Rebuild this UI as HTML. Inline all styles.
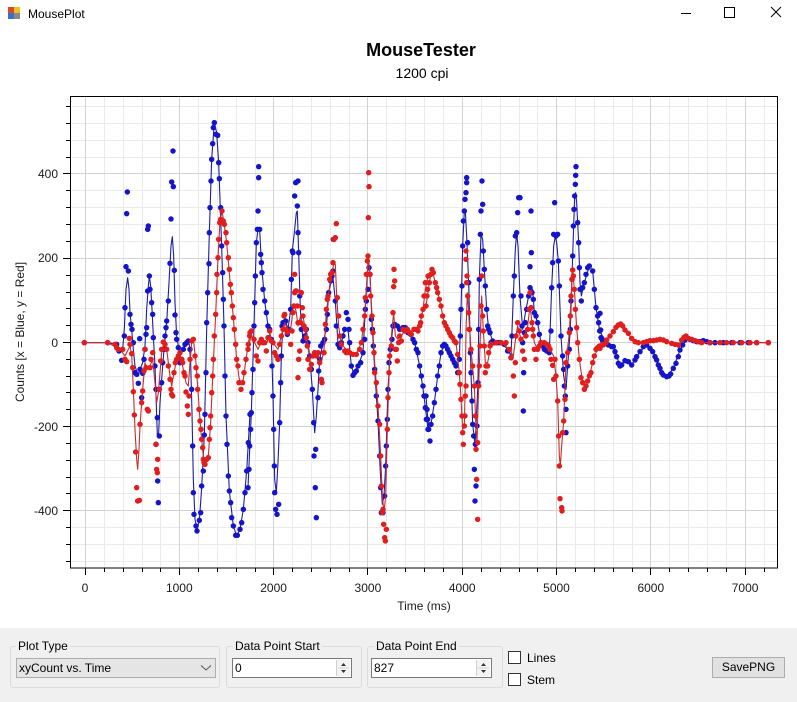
<!DOCTYPE html>
<html><head><meta charset="utf-8"><style>
html,body{margin:0;padding:0;}
body{width:797px;height:702px;position:relative;overflow:hidden;background:#fff;font-family:"Liberation Sans",sans-serif;}
.abs{position:absolute;}
.panel{position:absolute;left:0;top:628px;width:797px;height:74px;background:#f0f0f0;}
.grp{position:absolute;border:1px solid #dcdcdc;border-radius:3px;}
.glbl{position:absolute;font-size:12px;color:#000;background:#f0f0f0;padding:0 2px;line-height:14px;}
.inp{position:absolute;background:#fff;border:1px solid #7a7a7a;box-sizing:border-box;font-size:12px;line-height:18px;padding-left:2px;}
.spin{position:absolute;top:1px;right:1px;width:13px;height:16px;border-left:1px solid #d0d0d0;background:#f3f3f3;}
.cb{position:absolute;width:13px;height:13px;border:1px solid #333;background:#fff;box-sizing:border-box;}
.txt{position:absolute;font-size:12px;line-height:14px;color:#000;}
</style></head><body>
<svg class="abs" style="left:0;top:0" width="797" height="628" viewBox="0 0 797 628" xmlns="http://www.w3.org/2000/svg" font-family="Liberation Sans, sans-serif">
<defs>
<clipPath id="pc"><rect x="70" y="96" width="708" height="472"/></clipPath>
<marker id="bd" markerUnits="userSpaceOnUse" markerWidth="20" markerHeight="20" refX="10" refY="10" overflow="visible"><circle cx="10" cy="10" r="8.2" fill="#1414c8"/></marker>
<marker id="rd" markerUnits="userSpaceOnUse" markerWidth="20" markerHeight="20" refX="10" refY="10" overflow="visible"><circle cx="10" cy="10" r="8.2" fill="#e01e1e"/></marker>
</defs>
<!-- title bar -->
<rect x="8" y="7" width="6" height="6" fill="#d84a2a"/><rect x="14" y="7" width="6" height="6" fill="#f0c020"/><rect x="8" y="13" width="6" height="6" fill="#3a70d0"/><rect x="14" y="13" width="6" height="6" fill="#8a8a8a"/>
<text x="28" y="18" font-size="12" fill="#000">MousePlot</text>
<line x1="681" y1="13.5" x2="691" y2="13.5" stroke="#000" stroke-width="1"/>
<rect x="724.5" y="7.5" width="10" height="10" fill="none" stroke="#000" stroke-width="1"/>
<path d="M771 7L781 17M781 7L771 17" stroke="#000" stroke-width="1"/>
<!-- titles -->
<text x="421" y="56" font-size="18" font-weight="bold" text-anchor="middle" fill="#000">MouseTester</text>
<text x="422" y="78" font-size="14" text-anchor="middle" fill="#000">1200 cpi</text>
<!-- grid minor -->
<g stroke="#ebebeb" stroke-width="1" shape-rendering="crispEdges">
<path d="M85.5 96V568M104.5 96V568M123.5 96V568M142.5 96V568M160.5 96V568M198.5 96V568M217.5 96V568M236.5 96V568M255.5 96V568M292.5 96V568M311.5 96V568M330.5 96V568M349.5 96V568M386.5 96V568M405.5 96V568M424.5 96V568M443.5 96V568M481.5 96V568M500.5 96V568M519.5 96V568M537.5 96V568M575.5 96V568M594.5 96V568M613.5 96V568M632.5 96V568M669.5 96V568M688.5 96V568M707.5 96V568M726.5 96V568M764.5 96V568"/>
<path d="M70 106.5H778M70 123.5H778M70 140.5H778M70 157.5H778M70 190.5H778M70 207.5H778M70 224.5H778M70 241.5H778M70 275.5H778M70 292.5H778M70 308.5H778M70 325.5H778M70 359.5H778M70 376.5H778M70 392.5H778M70 409.5H778M70 443.5H778M70 460.5H778M70 477.5H778M70 493.5H778M70 527.5H778M70 544.5H778M70 561.5H778"/>
</g>
<g stroke="#d2d2d2" stroke-width="1" shape-rendering="crispEdges">
<path d="M85.5 96V568M179.5 96V568M273.5 96V568M367.5 96V568M462.5 96V568M556.5 96V568M650.5 96V568M745.5 96V568"/>
<path d="M70 173.5H778M70 258.5H778M70 342.5H778M70 426.5H778M70 510.5H778"/>
</g>
<!-- data -->
<g clip-path="url(#pc)" fill="none" stroke-linejoin="round">
<g transform="translate(70 96) scale(0.33333)">
<polyline stroke="#1c1ca8" stroke-width="3.3" points="43,740 113,740 140,745 150,770 158,760 163,700 168,580 173,545 177,580 180,650 185,700 190,760 195,810 205,840 210,820 218,800 225,750 230,640 235,570 238,540 242,570 246,640 250,720 255,810 258,900 262,1018 266,1010 270,920 275,850 282,760 290,680 297,560 303,450 307,422 311,480 315,620 320,720 330,780 340,760 350,740 358,745 362,800 366,950 370,1150 375,1270 381,1300 388,1275 395,1175 403,1017 410,700 418,410 425,190 433,80 440,110 446,200 455,450 462,690 468,960 478,1185 490,1290 500,1320 510,1300 520,1240 530,1125 540,955"/>
<polyline stroke="none" marker-start="url(#bd)" marker-mid="url(#bd)" marker-end="url(#bd)" points="43,740 113,740 140,745 147,765 155,793 163,720 165,635 168,512 175,525 172,288 170,353 180,655 183,685 186,700 190,740 195,830 200,835 205,862 210,820 209,728 215,905 218,832 222,790 225,760 228,715 230,695 233,585 240,580 238,540 235,390 233,400 245,620 248,655 250,725 255,810 258,880 262,965 258,1045 268,1020 263,1155 265,1220 275,860 278,800 282,760 285,720 288,695 290,675 295,615 300,502 303,369 305,258 309,165 310,272 313,523 315,657 318,710 320,730 325,755 330,800 335,790 340,760 345,745 350,740 355,735 360,760 365,880 368,1050 370,1190 372,1255 378,1290 381,1305 388,1273 392,1250 395,1170 400,1125 403,1017 405,955 408,830 410,680 413,590 417,503 418,410 420,335 423,255 425,190 428,143 430,95 433,80 438,115 443,118 446,200 448,248 452,335 455,450 458,530 460,610 462,690 465,840 468,960 471,1045 475,1140 478,1185 482,1220 485,1265 490,1290 497,1318 502,1318 510,1300 515,1280 520,1240 525,1190 530,1125 535,1040 540,955"/>
</g>
<g transform="translate(248 96) scale(0.33333)">
<polyline stroke="#1c1ca8" stroke-width="3.3" points="0,1175 10,950 18,690 25,440 30,400 35,400 40,500 50,615 60,690 70,730 75,900 80,1150 85,1190 90,1100 95,980 100,780 105,680 113,675 120,700 128,640 133,465 140,400 145,350 148,345 152,470 157,640 165,735 175,700 185,780 193,880 200,1010 205,960 210,880 215,790 225,740 235,700 242,590 250,555 255,545 262,615 270,745 280,740 290,700 300,700 310,810 318,835 330,810 345,770 352,640 358,540 362,500 366,535 372,680 380,820 390,975 397,1130 403,1225 408,1200 413,1110 420,880 427,760 435,690 445,690 465,695 480,710 500,740 515,810 528,900 540,1000"/>
<polyline stroke="none" marker-start="url(#bd)" marker-mid="url(#bd)" marker-end="url(#bd)" points="0,1175 3,1120 5,1050 8,1000 10,950 12,890 15,820 18,690 20,620 22,540 25,440 28,400 30,345 32,245 32,212 35,400 38,475 40,500 42,530 45,580 50,615 55,650 60,690 65,700 70,730 72,810 75,900 77,1000 79,1110 80,1190 83,1240 87,1255 92,1225 95,980 98,860 100,780 102,690 105,680 110,680 113,675 118,715 123,700 128,640 130,550 133,465 135,470 140,300 143,260 150,255 148,330 150,410 152,470 155,600 160,700 165,735 170,720 175,700 180,740 185,780 190,820 193,880 197,980 203,1060 198,1080 202,1175 205,1265 210,905 212,825 215,790 218,750 225,740 230,730 235,700 238,655 242,590 248,555 252,540 255,525 256,430 262,615 265,690 270,745 275,755 280,740 285,720 290,700 295,650 300,670 303,700 305,740 310,810 315,838 320,830 325,825 330,810 338,800 345,770 350,730 352,640 355,615 360,580 363,515 366,535 370,670 373,700 376,750 380,820 385,900 390,975 395,1080 398,1175 400,1250 405,1250 410,1200 413,1110 415,1050 418,970 420,880 423,800 427,760 432,730 435,690 440,685 448,690 455,700 465,695 472,695 480,710 488,715 495,730 500,740 505,760 510,770 515,810 520,840 525,870 528,900 532,935 535,970 540,1000"/>
</g>
<g transform="translate(426 96) scale(0.33333)">
<polyline stroke="#1c1ca8" stroke-width="3.3" points="0,900 8,1000 15,985 25,920 35,840 45,770 55,745 70,770 90,810 100,790 105,640 110,450 115,345 118,345 122,420 128,560 135,830 140,985 147,1045 150,990 156,860 160,550 165,415 170,430 175,520 182,640 188,700 200,735 225,740 245,760 255,780 262,600 268,460 272,410 276,450 282,600 290,700 300,640 308,600 315,575 320,580 325,650 335,680 345,740 362,765 370,770 377,575 383,450 388,420 392,440 397,495 405,720 413,840 420,880 425,810 433,700 440,480 446,300 449,290 452,320 458,440 462,560 466,600 475,560 490,510 500,525 510,635 521,705 540,740"/>
<polyline stroke="none" marker-start="url(#bd)" marker-mid="url(#bd)" marker-end="url(#bd)" points="0,900 3,940 5,970 8,1000 12,1035 15,985 20,960 25,920 30,880 35,840 40,810 45,770 50,750 55,745 60,750 65,760 70,770 75,780 80,790 85,800 90,810 95,830 100,790 103,720 105,640 108,570 110,450 112,375 115,345 117,310 120,290 122,260 122,245 125,440 128,560 130,700 133,770 135,830 138,915 140,985 143,1020 145,1120 150,1170 147,1215 148,1045 153,990 156,860 158,700 160,550 163,415 165,345 170,325 168,255 172,465 175,520 178,570 182,640 185,690 188,700 192,710 195,740 200,735 205,740 210,740 215,740 220,740 225,740 235,745 245,765 255,785 258,720 262,600 265,540 268,420 272,410 275,350 278,305 282,305 285,600 288,690 290,740 293,830 292,945 295,710 298,680 302,640 308,600 312,575 315,345 316,470 312,512 318,590 322,610 325,650 330,660 335,680 340,715 345,740 350,750 355,760 362,765 370,770 375,705 377,575 380,500 383,415 386,320 390,420 395,415 397,495 400,570 405,720 410,780 413,820 415,870 418,900 420,940 420,1010 425,810 430,760 433,700 435,615 438,550 440,480 442,390 444,340 446,300 448,265 449,238 450,212 455,380 458,440 460,515 462,580 466,615 470,575 475,560 480,535 485,515 490,510 500,525 505,580 510,635 515,660 518,680 521,705 525,725 530,735 540,740"/>
</g>
<g transform="translate(600 250) scale(0.33333)">
<polyline stroke="#1c1ca8" stroke-width="3.3" points="0,240 12,275 40,290 60,348 75,332 95,345 120,305 140,285 160,305 180,355 200,380 220,355 240,300 262,265 300,275 505,278"/>
<polyline stroke="none" marker-start="url(#bd)" marker-mid="url(#bd)" marker-end="url(#bd)" points="0,190 2,240 5,265 12,275 25,285 35,290 40,290 45,305 50,320 55,340 60,348 65,345 75,332 85,335 95,345 105,330 110,320 120,305 130,290 140,285 150,295 158,305 165,320 170,330 175,345 180,355 185,368 190,375 200,380 207,378 212,372 220,355 228,340 235,320 240,300 248,285 255,270 262,265 270,268 280,272 290,275 300,275 310,272 320,275 330,278 345,278 370,278 395,278 420,278 445,278 470,278 505,278"/>
</g>
<!-- red -->
<g transform="translate(70 96) scale(0.33333)">
<polyline stroke="#cc2a2a" stroke-width="3.3" points="43,740 113,740 150,760 165,780 175,760 180,750 185,775 190,880 195,1000 200,1090 203,1120 207,1060 210,990 218,880 225,800 232,820 240,810 248,790 255,860 260,920 265,890 270,830 275,770 282,740 290,760 300,840 305,870 312,830 320,790 330,775 340,820 348,860 355,870 360,800 365,740 370,730 378,800 385,900 392,1000 400,1080 407,1100 415,1080 422,980 430,800 437,655 444,485 450,375 456,345 462,380 470,440 481,565 490,665 500,790 507,845 513,862 520,850 528,790 540,710"/>
<polyline stroke="none" marker-start="url(#rd)" marker-mid="url(#rd)" marker-end="url(#rd)" points="43,740 113,740 135,745 140,755 145,760 158,760 165,790 170,797 178,727 180,745 185,773 188,815 190,887 193,957 197,1068 200,1175 203,1215 208,1213 210,985 215,920 218,885 222,825 225,760 228,815 232,940 235,945 240,815 243,790 248,770 258,1045 260,1120 262,1130 263,1090 268,880 272,795 275,760 280,738 285,745 290,760 295,810 300,850 303,880 305,895 308,900 312,830 316,800 320,790 325,780 330,770 335,790 338,800 342,830 345,840 348,888 352,930 355,955 357,900 360,790 365,735 370,730 375,780 378,815 382,840 383,880 387,940 390,975 393,1000 395,1030 398,1055 400,1090 402,1100 405,1105 410,1090 415,1085 418,1030 420,995 422,960 425,890 428,840 430,790 433,720 437,655 440,590 441,535 444,485 446,430 449,380 452,370 456,345 460,375 463,385 468,410 470,440 475,485 478,520 481,565 484,590 487,630 490,665 493,700 497,745 500,790 504,810 507,860 513,880 518,860 522,830 528,790 535,745 540,710"/>
</g>
<g transform="translate(248 96) scale(0.33333)">
<polyline stroke="#cc2a2a" stroke-width="3.3" points="0,760 10,715 20,740 30,760 40,735 55,745 65,715 75,740 90,760 100,720 110,680 120,700 128,700 135,640 140,630 145,650 150,690 158,660 165,660 175,720 185,790 195,780 210,780 220,800 228,760 235,650 245,570 252,530 258,500 262,505 266,600 272,690 280,745 300,765 325,775 340,740 350,660 356,560 361,480 366,540 372,660 380,800 390,930 398,1080 403,1200 408,1250 413,1200 418,1000 425,780 432,700 437,650 442,720 450,730 460,720 470,705 485,705 500,705 515,690 525,640 532,580 540,540"/>
<polyline stroke="none" marker-start="url(#rd)" marker-mid="url(#rd)" marker-end="url(#rd)" points="0,760 5,720 10,705 18,730 25,780 30,795 35,740 40,730 45,740 50,740 55,765 60,725 65,705 70,735 75,740 80,770 85,780 90,790 95,745 100,720 105,700 108,660 110,655 113,700 118,710 128,745 132,705 135,650 138,630 140,590 143,585 145,585 140,535 148,630 150,680 152,790 155,765 150,845 158,680 160,590 163,635 165,660 168,690 172,700 175,725 178,750 180,790 185,820 190,805 195,780 200,770 205,780 210,770 215,800 220,850 222,860 228,770 232,685 235,640 238,610 240,600 245,550 248,535 252,530 255,500 258,430 262,425 265,383 268,605 272,660 275,720 280,745 290,765 295,770 300,765 305,770 315,775 325,775 335,760 340,740 345,700 350,660 352,605 355,535 358,495 360,480 361,365 363,272 362,230 366,535 368,600 372,660 375,710 378,770 380,830 385,860 390,930 395,985 398,1080 400,1170 403,1250 405,1240 407,1285 410,1325 412,1335 415,1300 418,1000 420,905 423,830 425,780 430,750 435,650 438,520 440,555 437,572 442,760 445,760 448,795 452,740 455,720 460,735 465,700 470,705 478,700 485,710 490,715 498,700 505,700 510,705 515,690 518,680 520,660 525,640 528,600 532,560 540,540"/>
</g>
<g transform="translate(426 96) scale(0.33333)">
<polyline stroke="#cc2a2a" stroke-width="3.3" points="0,630 10,560 18,520 28,560 40,610 55,680 70,710 90,740 100,830 105,910 110,1000 115,990 118,850 120,700 124,590 128,650 135,760 145,870 150,1000 153,1040 158,870 162,750 167,600 172,705 178,800 185,800 195,745 225,740 250,760 262,780 270,720 275,690 285,730 295,720 305,690 312,630 318,680 325,740 335,760 355,740 372,760 383,780 390,840 395,915 400,1080 403,1110 407,1050 413,975 420,800 430,710 438,550 440,522 445,580 452,695 460,790 470,860 478,875 490,840 505,780 520,750 540,740"/>
<polyline stroke="none" marker-start="url(#rd)" marker-mid="url(#rd)" marker-end="url(#rd)" points="0,630 3,600 5,580 10,560 15,535 18,520 22,530 28,560 32,575 35,590 40,610 45,630 50,660 55,680 60,690 65,700 70,710 75,720 80,725 85,735 90,740 95,775 100,830 102,865 105,910 108,960 110,1010 112,1045 115,990 117,960 118,900 120,870 122,560 120,465 120,490 123,540 125,600 128,650 130,700 135,760 140,810 145,870 148,960 150,1060 152,1150 155,1270 155,1040 158,870 160,810 162,750 165,630 167,540 170,660 172,705 175,750 178,830 180,810 185,810 188,770 192,750 195,745 210,740 225,740 240,740 250,760 255,785 262,840 265,900 268,800 270,720 275,680 280,705 285,730 290,765 295,790 300,720 305,700 310,640 312,590 315,635 318,680 320,700 322,720 325,760 330,790 335,760 340,750 345,740 355,740 362,745 368,750 372,760 375,790 380,808 383,850 387,790 390,840 395,915 398,1020 400,1110 402,1208 407,1235 408,1245 410,1010 413,975 417,910 420,800 425,770 430,710 433,660 435,600 438,550 440,522 442,540 445,580 448,640 452,695 455,740 460,790 465,845 470,860 475,880 480,870 485,855 490,840 495,830 500,800 505,780 510,760 515,755 520,750 530,745 540,740"/>
</g>
<g transform="translate(600 250) scale(0.33333)">
<polyline stroke="#cc2a2a" stroke-width="3.3" points="0,295 20,270 40,245 62,222 75,240 95,265 115,278 140,275 180,268 200,275 235,285 258,258 275,268 305,278 505,278"/>
<polyline stroke="none" marker-start="url(#rd)" marker-mid="url(#rd)" marker-end="url(#rd)" points="0,295 10,285 20,270 30,258 40,245 48,232 55,225 62,222 68,228 75,240 85,250 95,265 105,275 115,278 130,278 140,275 150,272 160,272 170,270 180,268 190,270 200,275 215,280 225,283 235,285 245,270 252,262 258,258 265,265 275,268 285,272 295,275 305,278 330,278 360,278 380,278 400,278 425,278 450,278 470,278 505,278"/>
</g>
</g>
<!-- frame -->
<rect x="70.5" y="96.5" width="707" height="471.5" fill="none" stroke="#000" stroke-width="1"/>
<!-- ticks -->
<g stroke="#000" stroke-width="1" shape-rendering="crispEdges">
<path d="M85.5 568V575M179.5 568V575M273.5 568V575M367.5 568V575M462.5 568V575M556.5 568V575M650.5 568V575M745.5 568V575"/>
<path d="M104.5 568V572M123.5 568V572M142.5 568V572M160.5 568V572M198.5 568V572M217.5 568V572M236.5 568V572M255.5 568V572M292.5 568V572M311.5 568V572M330.5 568V572M349.5 568V572M386.5 568V572M405.5 568V572M424.5 568V572M443.5 568V572M481.5 568V572M500.5 568V572M519.5 568V572M537.5 568V572M575.5 568V572M594.5 568V572M613.5 568V572M632.5 568V572M669.5 568V572M688.5 568V572M707.5 568V572M726.5 568V572M764.5 568V572"/>
<path d="M63 173.5H70M63 258.5H70M63 342.5H70M63 426.5H70M63 510.5H70"/>
<path d="M66 106.5H70M66 123.5H70M66 140.5H70M66 157.5H70M66 190.5H70M66 207.5H70M66 224.5H70M66 241.5H70M66 275.5H70M66 292.5H70M66 308.5H70M66 325.5H70M66 359.5H70M66 376.5H70M66 392.5H70M66 409.5H70M66 443.5H70M66 460.5H70M66 477.5H70M66 493.5H70M66 527.5H70M66 544.5H70M66 561.5H70"/>
</g>
<g font-size="12" fill="#1a1a1a" text-anchor="middle">
<text x="85" y="592">0</text><text x="179.3" y="592">1000</text><text x="273.6" y="592">2000</text><text x="367.9" y="592">3000</text><text x="462.2" y="592">4000</text><text x="556.5" y="592">5000</text><text x="650.8" y="592">6000</text><text x="745.1" y="592">7000</text>
<text x="424" y="610">Time (ms)</text>
</g>
<g font-size="12" fill="#1a1a1a" text-anchor="end">
<text x="58" y="178">400</text><text x="58" y="262">200</text><text x="58" y="347">0</text><text x="58" y="431">-200</text><text x="58" y="515">-400</text>
</g>
<text transform="translate(24 332) rotate(-90)" font-size="12" fill="#1a1a1a" text-anchor="middle">Counts [x = Blue, y = Red]</text>
</svg>

<div class="panel"></div>
<!-- Plot Type -->
<div class="grp" style="left:10px;top:646px;width:208px;height:40px;"></div>
<div class="glbl" style="left:16px;top:639px;">Plot Type</div>
<div class="abs" style="left:16px;top:658px;width:200px;height:20px;background:#e5e5e5;border:1px solid #adadad;box-sizing:border-box;"></div>
<div class="txt" style="left:19px;top:661px;">xyCount vs. Time</div>
<svg class="abs" style="left:200px;top:664px" width="12" height="8"><polyline points="1,1.5 6,6 11,1.5" fill="none" stroke="#555" stroke-width="1"/></svg>
<!-- Data Point Start -->
<div class="grp" style="left:226px;top:646px;width:134px;height:40px;"></div>
<div class="glbl" style="left:233px;top:639px;">Data Point Start</div>
<div class="inp" style="left:232px;top:658px;width:120px;height:20px;">0<div class="spin"><svg width="13" height="16" style="display:block"><polygon points="4,6 9,6 6.5,3" fill="#333"/><line x1="1" y1="8" x2="12" y2="8" stroke="#d0d0d0"/><polygon points="4,10 9,10 6.5,13" fill="#333"/></svg></div></div>
<!-- Data Point End -->
<div class="grp" style="left:367px;top:646px;width:134px;height:40px;"></div>
<div class="glbl" style="left:374px;top:639px;">Data Point End</div>
<div class="inp" style="left:371px;top:658px;width:121px;height:20px;">827<div class="spin"><svg width="13" height="16" style="display:block"><polygon points="4,6 9,6 6.5,3" fill="#333"/><line x1="1" y1="8" x2="12" y2="8" stroke="#d0d0d0"/><polygon points="4,10 9,10 6.5,13" fill="#333"/></svg></div></div>
<!-- checkboxes -->
<div class="cb" style="left:508px;top:651px;"></div>
<div class="txt" style="left:527px;top:651px;">Lines</div>
<div class="cb" style="left:508px;top:673px;"></div>
<div class="txt" style="left:527px;top:673px;">Stem</div>
<!-- button -->
<div class="abs" style="left:712px;top:657px;width:73px;height:21px;background:#e1e1e1;border:1px solid #adadad;box-sizing:border-box;font-size:12px;line-height:19px;text-align:center;">SavePNG</div>
</body></html>
